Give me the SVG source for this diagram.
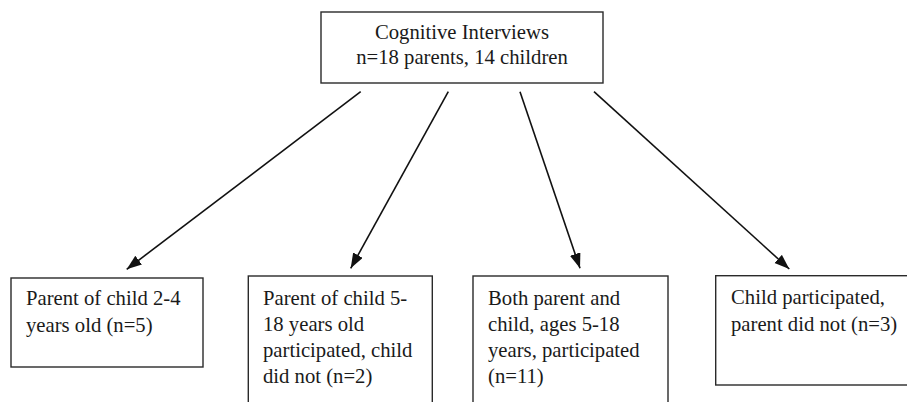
<svg xmlns="http://www.w3.org/2000/svg" width="907" height="402" viewBox="0 0 907 402">
<style>
.box{fill:#fff;stroke:#2a2a2a;stroke-width:1.4}
.t{font-family:"Liberation Serif","Times New Roman",serif;font-size:20.7px;fill:#1a1a1a}
.c{text-anchor:middle}
.ln{stroke:#111;stroke-width:1.6;fill:none;marker-end:url(#ah)}
</style>
<defs>
<marker id="ah" markerUnits="userSpaceOnUse" markerWidth="16" markerHeight="12" refX="15" refY="5.5" orient="auto">
<path d="M0,0 L15,5.5 L0,11 z" fill="#111"/>
</marker>
</defs>
<rect width="907" height="402" fill="#fff"/>
<g id="connectors">
<line class="ln" x1="360.7" y1="91.7" x2="126.7" y2="269.3"/>
<line class="ln" x1="448.3" y1="91.7" x2="350.7" y2="268.3"/>
<line class="ln" x1="520" y1="91.7" x2="580" y2="268.3"/>
<line class="ln" x1="594" y1="91.7" x2="789.3" y2="269"/>
</g>
<g id="top">
<rect class="box" x="321" y="12" width="282" height="71"/>
<text class="t c" x="462" y="39">Cognitive Interviews</text>
<text class="t c" x="462" y="64">n=18 parents, 14 children</text>
</g>
<g id="n1">
<rect class="box" x="11" y="278" width="192" height="89"/>
<text class="t" x="26" y="305">Parent of child 2-4</text>
<text class="t" x="26" y="332">years old (n=5)</text>
</g>
<g id="n2">
<rect class="box" x="248.3" y="276" width="184" height="140"/>
<text class="t" x="263" y="305">Parent of child 5-</text>
<text class="t" x="263" y="331">18 years old</text>
<text class="t" x="263" y="357">participated, child</text>
<text class="t" x="263" y="383">did not (n=2)</text>
</g>
<g id="n3">
<rect class="box" x="473" y="276" width="195" height="140"/>
<text class="t" x="488" y="305">Both parent and</text>
<text class="t" x="488" y="331">child, ages 5-18</text>
<text class="t" x="488" y="357">years, participated</text>
<text class="t" x="488" y="383">(n=11)</text>
</g>
<g id="n4">
<rect class="box" x="715.7" y="275.7" width="200" height="109.3"/>
<text class="t" x="731" y="304">Child participated,</text>
<text class="t" x="731" y="331">parent did not (n=3)</text>
</g>
</svg>
